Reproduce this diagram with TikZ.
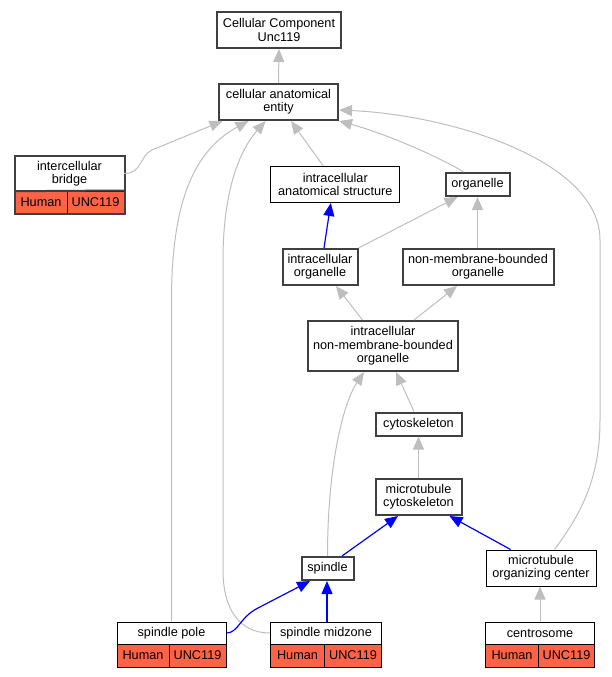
\documentclass[tikz,border=0pt]{standalone}
\usepackage{fontspec}
\setmainfont{Liberation Sans}
\usetikzlibrary{arrows.meta}
\definecolor{isagray}{RGB}{190,190,190}
\definecolor{annot}{RGB}{255,99,71}
\definecolor{termborder}{RGB}{64,64,64}

\begin{document}
\begin{tikzpicture}[x=1pt, y=-1pt, >={Triangle[length=13pt, width=11pt]}]
	\tikzstyle{box} = [rectangle, inner sep=0pt, align=center, font=\fontsize{12.7}{13.3}\selectfont]
	\tikzstyle{term} = [box, draw=termborder, line width=2pt]
	\tikzstyle{leaf} = [box, draw=black, line width=1pt]
	\tikzstyle{cell} = [leaf, fill=annot, minimum height=23pt]
	\tikzstyle{isa} = [->, color=isagray, line width=1pt]
	\tikzstyle{part} = [->, color=blue, line width=1.2pt]

	\useasboundingbox (0,0) rectangle (611,677);

	% terms
	\path
		node[term, minimum width=124pt, minimum height=36pt] (1) at (279,30) {Cellular Component\\Unc119}
		node[term, minimum width=119pt, minimum height=36pt] (2) at (278.5,102) {cellular anatomical\\entity}
		node[leaf, minimum width=129pt, minimum height=36pt] (4) at (335.3,184.5) {intracellular\\anatomical structure}
		node[term, minimum width=64pt, minimum height=23pt] (5) at (477.5,184.5) {organelle}
		node[term, minimum width=75pt, minimum height=36pt] (6) at (320,267) {intracellular\\organelle}
		node[term, minimum width=151pt, minimum height=36pt] (7) at (478,267) {non-membrane-bounded\\organelle}
		node[term, minimum width=150pt, minimum height=50pt] (8) at (383,346) {intracellular\\non-membrane-bounded\\organelle}
		node[term, minimum width=86pt, minimum height=23pt] (9) at (418.5,424) {cytoskeleton}
		node[term, minimum width=86pt, minimum height=36pt] (10) at (418.5,497) {microtubule\\cytoskeleton}
		node[term, minimum width=52pt, minimum height=23pt] (11) at (327.5,568.5) {spindle}
		node[leaf, minimum width=110pt, minimum height=36pt] (12) at (541,568) {microtubule\\organizing center}
		node[leaf, minimum width=109pt, minimum height=22pt] (13) at (171.5,633) {spindle pole}
		node[leaf, minimum width=111pt, minimum height=22pt] (14) at (326,633) {spindle midzone}
		node[leaf, minimum width=109pt, minimum height=22pt] (15) at (540,633) {centrosome}
	;

	% annotations
	\path
		node[cell, minimum width=52pt, minimum height=22pt] (3h) at (41,202) {Human}
		node[cell, minimum width=57pt, minimum height=22pt] (3u) at (95.5,202) {UNC119}
		node[cell, minimum width=52pt] (13h) at (143,655.5) {Human}
		node[cell, minimum width=57pt] (13u) at (197.5,655.5) {UNC119}
		node[cell, minimum width=54pt] (14h) at (297.5,655.5) {Human}
		node[cell, minimum width=57pt] (14u) at (353,655.5) {UNC119}
		node[cell, minimum width=53pt] (15h) at (512,655.5) {Human}
		node[cell, minimum width=56pt] (15u) at (566.5,655.5) {UNC119}
	;
	% bridge frame round its title and row
	\node[box, minimum width=109pt, minimum height=35pt] (3) at (69.5,173.5) {intercellular\\bridge};
	\draw[termborder, line width=2pt] (3.north west) rectangle (3u.south east);
	\draw[termborder, line width=2pt] (3.south west) -- (3u.north east);

	% is_a
	\draw[isa] (2.north) -- (1.south);
	\draw[isa] ([xshift=-12pt]4.north) -- ([xshift=12.5pt]2.south);
	\draw[isa] (6.north east) -- ([xshift=-20pt]5.south);
	\draw[isa] ([xshift=-0.5pt]7.north) -- (5.south);
	\draw[isa] ([xshift=-20.5pt]8.north) -- ([xshift=16pt]6.south);
	\draw[isa] ([xshift=31pt]8.north) -- ([xshift=-21pt]7.south);
	\draw[isa] ([xshift=-4.5pt]9.north) -- ([xshift=13pt]8.south);
	\draw[isa] (10.north) -- (9.south);
	\draw[isa] (15.north) -- ([xshift=-1pt]12.south);
	\draw[isa] (3.east) .. controls (142,174) and (140,155) .. (152,150) -- ([xshift=-56pt]2.south);
	\draw[isa] (13.north) -- (171.5,300) .. controls (171.5,200) and (195,150) .. ([xshift=-30pt]2.south);
	\draw[isa] (14.west) .. controls (240,633) and (223,610) .. (223,570) -- (223,260) .. controls (223,190) and (240,150) .. ([xshift=-13pt]2.south);
	\draw[isa] ([xshift=-14pt]5.north) .. controls (445,160) and (390,135) .. (2.south east);
	\draw[isa] ([xshift=13.5pt]12.north) .. controls (580,515) and (600,480) .. (600,420) -- (600,240) .. controls (600,160) and (450,115) .. ([yshift=-8pt]2.east);
	\draw[isa] (11.north) .. controls (327.5,470) and (342,405) .. ([xshift=-19pt]8.south);

	% part_of
	\draw[part] ([xshift=4pt]6.north) -- ([xshift=-4.5pt]4.south);
	\draw[part] ([xshift=14.5pt]11.north) -- ([xshift=-20.5pt]10.south);
	\draw[part] ([xshift=-30.5pt]12.north) -- ([xshift=31pt]10.south);
	\draw[part] ([xshift=1pt]14.north) -- ([xshift=-0.5pt]11.south);
	\draw[part] (13.east) .. controls (238,633) and (240,617) .. (258,608) -- ([xshift=-17.5pt]11.south);
\end{tikzpicture}
\end{document}
